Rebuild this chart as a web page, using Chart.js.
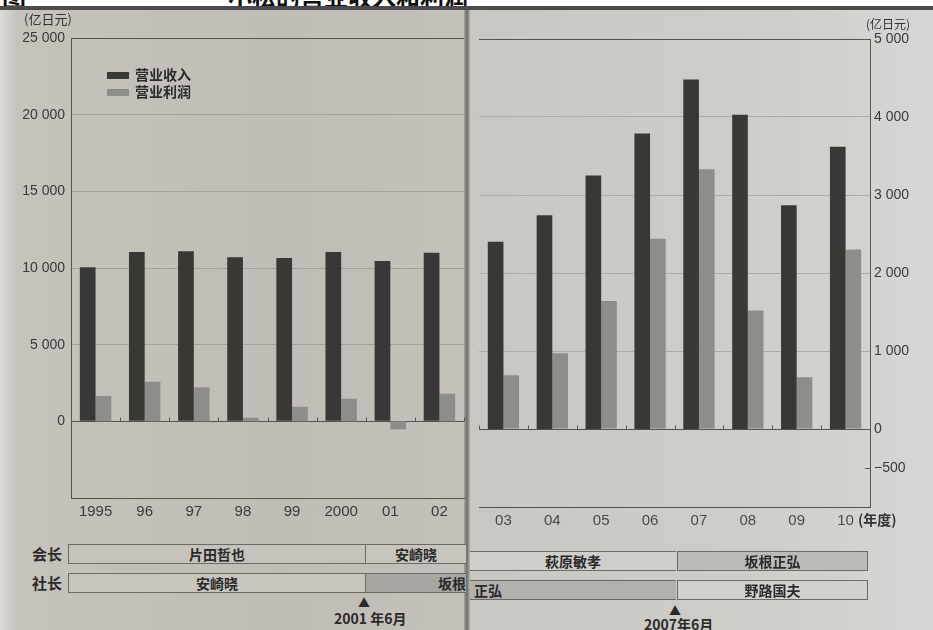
<!DOCTYPE html>
<html>
<head>
<meta charset="utf-8">
<script src="https://cdn.jsdelivr.net/npm/chart.js@4.4.0/dist/chart.umd.min.js"></script>
<style>
body { margin:0; width:933px; height:630px; position:relative; overflow:hidden; background:#c2bfb9; font-family:"Liberation Sans", Arial, sans-serif; }
.abs { position:absolute; }
#titlebar { left:0; top:0; width:933px; height:6px; background:#fff; overflow:hidden; }
#titlebar span { position:absolute; top:-22px; font:bold 24px "Noto Sans CJK SC"; color:#111; white-space:nowrap; }
#rule { left:0; top:6px; width:933px; height:4px; background:#4b4b4b; }
#pageL { left:0; top:10px; width:467px; height:620px; background:linear-gradient(to right,#dedcd8 0,#c6c3bd 16px,#c0bdb7 60%,#c4c1bb 100%); }
#pageR { left:469px; top:10px; width:464px; height:620px; background:linear-gradient(to right,#c9c7c2 0,#cfcdc8 60%,#d6d6d5 100%); }
#gutter { left:464px; top:10px; width:6px; height:620px; background:linear-gradient(to right,#a9a6a1,#6f6c68,#b8b6b1); }
.unit { font:13px "Noto Sans CJK SC"; color:#333; }
.leg { left:107px; font:bold 14px "Noto Sans CJK SC"; color:#2b2b2b; line-height:16px; }
.leg i { display:inline-block; width:22px; height:7px; margin-right:6px; vertical-align:1px; }
.role { font:bold 15px "Noto Sans CJK SC"; color:#2b2b2b; line-height:20px; }
.box { height:18px; border-top:1px solid #6c6a66; border-bottom:1px solid #6c6a66; font:bold 14px "Noto Sans CJK SC"; color:#2a2a2a; line-height:18px; text-align:center; overflow:hidden; white-space:nowrap; }
.mark { font:bold 14px "Noto Sans CJK SC"; color:#2a2a2a; white-space:nowrap; }
canvas { position:absolute; }
</style>
</head>
<body>
<div id="titlebar" class="abs"><span style="left:2px">图</span><span style="left:228px">小松的营业收入和利润</span></div>
<div id="rule" class="abs"></div>
<div id="pageL" class="abs"></div>
<div id="pageR" class="abs"></div>
<div id="gutter" class="abs"></div>

<canvas id="chartL" width="466" height="530" style="left:0;top:0"></canvas>
<canvas id="chartR" width="465" height="540" style="left:468px;top:0"></canvas>

<div class="abs unit" style="left:24px;top:9px">(亿日元)</div>
<div class="abs unit" style="left:866px;top:15px;font-size:12px">(亿日元)</div>
<div class="abs unit" style="left:858px;top:509px;font-size:14px;font-weight:bold">(年度)</div>
<div id="legend"></div>

<!-- 会长 / 社长 -->
<div class="abs role" style="left:32px;top:544px">会长</div>
<div class="abs role" style="left:32px;top:573px">社长</div>
<div class="abs box" style="left:68px;top:544px;width:296px;border-left:1px solid #6c6a66;background:#c6c3bd">片田哲也</div>
<div class="abs box" style="left:365px;top:544px;width:100px;border-left:1px solid #6c6a66;background:#c8c5bf">安崎晓</div>
<div class="abs box" style="left:68px;top:573px;width:296px;border-left:1px solid #6c6a66;background:#c8c5bf">安崎晓</div>
<div class="abs box" style="left:365px;top:573px;width:100px;border-left:1px solid #6c6a66;background:#a9a6a1;text-align:right">坂根</div>

<div class="abs box" style="left:470px;top:551px;width:206px;background:#d0cecb">萩原敏孝</div>
<div class="abs box" style="left:677px;top:551px;width:189px;border-left:1px solid #6c6a66;border-right:1px solid #6c6a66;background:#bdbbb8">坂根正弘</div>
<div class="abs box" style="left:470px;top:580px;width:206px;background:#b3b1ad;text-align:left;padding-left:4px;box-sizing:border-box;height:20px">正弘</div>
<div class="abs box" style="left:677px;top:580px;width:189px;border-left:1px solid #6c6a66;border-right:1px solid #6c6a66;background:#d3d1ce">野路国夫</div>

<div class="abs mark" style="left:358px;top:594px;font-size:12px">▲</div>
<div class="abs mark" style="left:334px;top:608px">2001 年6月</div>
<div class="abs mark" style="left:669px;top:602px;font-size:12px">▲</div>
<div class="abs mark" style="left:644px;top:614px">2007年6月</div>

<script>
// 数据
const years = ['1995', '96', '97', '98', '99', '2000', '01', '02', '03', '04', '05', '06', '07', '08', '09', '10'];
const seriesNames = ['营业收入', '营业利润'];
const revenue = [10050, 11050, 11100, 10700, 10650, 11050, 10450, 11000, 12000, 13700, 16250, 18950, 22400, 20150, 14350, 18100];
const profit = [330, 516, 443, 47, 190, 295, -105, 360, 690, 970, 1640, 2440, 3330, 1520, 665, 2300];
const leftTicks = [0, 5000, 10000, 15000, 20000, 25000];
const rightTicks = [-500, 0, 1000, 2000, 3000, 4000, 5000];
const splitAt = 8; // 左页 1995-02, 右页 03-10

const darkColor = '#3a3836';
const lightColor = '#8f8d89';

// 图例
document.getElementById('legend').innerHTML = seriesNames.map((name, i) =>
    `<div class="abs leg" style="top:${66 + i * 17}px"><i style="background:${i == 0 ? darkColor : lightColor}"></i>${name}</div>`
).join('');

function fmt(v) {
    let s = Math.abs(v) >= 1000 ? Math.floor(Math.abs(v) / 1000) + ' ' + String(Math.abs(v) % 1000).padStart(3, '0') : String(Math.abs(v));
    return v < 0 ? '−' + s : s;
}

// 零线上的小刻度
const zeroTicks = {
    id: 'zeroTicks',
    afterDraw(chart) {
        const x = chart.scales.x, y = chart.scales.y;
        const ctx = chart.ctx;
        const y0 = Math.round(y.getPixelForValue(0)) + 0.5;
        const half = (x.getPixelForValue(1) - x.getPixelForValue(0)) / 2;
        ctx.save();
        ctx.strokeStyle = '#5a5856';
        ctx.lineWidth = 1;
        ctx.beginPath();
        for (let i = 0; i <= x.ticks.length; i++) {
            const px = Math.round(x.getPixelForValue(i) - half) + 0.5;
            ctx.moveTo(px, y0);
            ctx.lineTo(px, y0 - 4);
        }
        // 右轴负值的短刻度
        const y1 = chart.scales.y1;
        if (y1.options.display) {
            y1.ticks.filter(t => t.value < 0).forEach(t => {
                const py = Math.round(y1.getPixelForValue(t.value)) + 0.5;
                ctx.moveTo(chart.chartArea.right, py);
                ctx.lineTo(chart.chartArea.right - 5, py);
            });
        }
        ctx.stroke();
        ctx.restore();
    }
};

Chart.defaults.font.family = '"Liberation Sans", Arial, sans-serif';
Chart.defaults.color = '#3a3a3a';

function veBieuDo(id, from, to, side) {
    const isLeft = side == 'left';
    return new Chart(document.getElementById(id), {
        type: 'bar',
        data: {
            labels: years.slice(from, to),
            datasets: [
                { label: seriesNames[0], data: revenue.slice(from, to), yAxisID: 'y', backgroundColor: darkColor, barPercentage: 1, categoryPercentage: 0.64 },
                { label: seriesNames[1], data: profit.slice(from, to), yAxisID: 'y1', backgroundColor: lightColor, barPercentage: 1, categoryPercentage: 0.64 },
            ],
        },
        options: {
            responsive: false,
            animation: false,
            layout: { padding: isLeft ? { top: 38, left: 0, right: 2, bottom: 0 } : { top: 39, left: 11, right: 0, bottom: 0 } },
            plugins: { legend: { display: false }, tooltip: { enabled: false } },
            scales: {
                x: {
                    grid: { display: false, drawTicks: false },
                    border: { display: true, color: '#55534f' },
                    ticks: { font: { size: 15 }, padding: 5, color: isLeft ? '#3a3a3a' : '#4a4a4a' },
                    afterFit: s => { s.height = isLeft ? 32 : 33; },
                },
                y: {
                    display: isLeft,
                    position: 'left',
                    min: -5000,
                    max: 25000,
                    afterBuildTicks: s => { s.ticks = leftTicks.map(v => ({ value: v })); },
                    grid: {
                        drawTicks: false,
                        color: c => (c.tick.value == 0 || c.tick.value == 25000) ? '#55534f' : '#a4a19b',
                    },
                    border: { display: true, color: '#55534f' },
                    ticks: { font: { size: 14 }, padding: 6, callback: v => fmt(v) },
                    afterFit: s => { if (isLeft) s.width = 71; },
                },
                y1: {
                    display: !isLeft,
                    position: 'right',
                    min: -1000,
                    max: 5000,
                    afterBuildTicks: s => { s.ticks = rightTicks.map(v => ({ value: v })); },
                    grid: {
                        drawTicks: false,
                        color: c => c.tick.value < 0 ? 'rgba(0,0,0,0)' : (c.tick.value == 0 || c.tick.value == 5000) ? '#55534f' : '#aeaca7',
                    },
                    border: { display: true, color: '#55534f' },
                    ticks: { font: { size: 14 }, padding: 4, callback: v => fmt(v) },
                    afterFit: s => { if (!isLeft) s.width = 63; },
                },
            },
        },
        plugins: [zeroTicks],
    });
}

veBieuDo('chartL', 0, splitAt, 'left');
veBieuDo('chartR', splitAt, years.length, 'right');
</script>
</body>
</html>
